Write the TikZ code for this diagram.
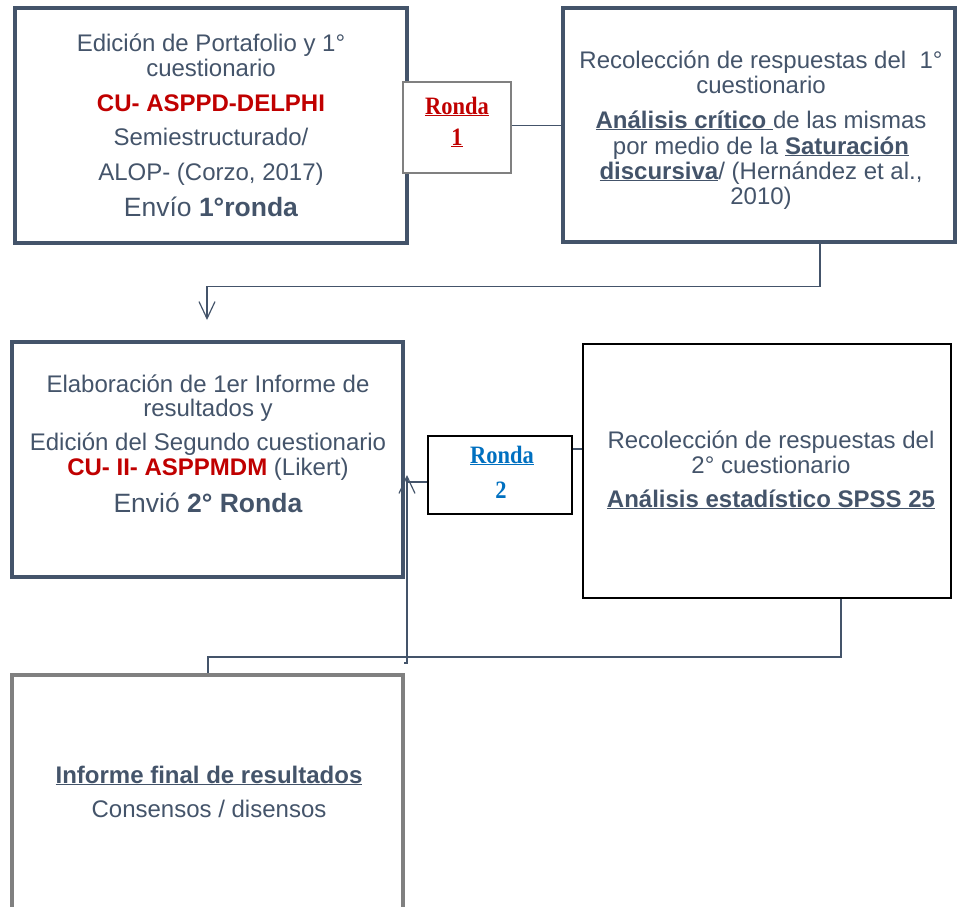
\documentclass[tikz,border=0pt]{standalone}
\usepackage{fontspec}
\setmainfont{Liberation Sans}
\newfontfamily\serfont[FakeStretch=0.9]{Liberation Serif}
\usetikzlibrary{arrows.meta}
\definecolor{slate}{HTML}{44546A}
\definecolor{dred}{HTML}{C00000}
\definecolor{dblue}{HTML}{0070C0}
\definecolor{gbord}{HTML}{808080}
\newcommand\fsz{\fontsize{24}{28}\selectfont}
\newcommand\fbg{\fontsize{26.5}{30}\selectfont}
\newcommand\frs{\fontsize{25}{29}\selectfont}
\begin{document}
\begin{tikzpicture}[x=1pt,y=-1pt,
 box/.style={draw, inner sep=0pt, line width=3.3pt},
 rbox/.style={draw, inner sep=0pt, fill=white},
 txt/.style={anchor=base, inner sep=0pt, font=\fsz, text=slate},
 rtxt/.style={anchor=base, inner sep=0pt, font=\frs\serfont\bfseries},
 conn/.style={draw=slate, line width=1.2pt},
 barb/.style={-{Straight Barb[length=17pt,width=16pt]}}
]
\useasboundingbox (0,0) rectangle (961,907);
% boxes
\node[box, draw=slate, minimum width=392pt, minimum height=235pt] (A) at (211,125.5) {};
\node[box, draw=slate, minimum width=392pt, minimum height=234pt] (B) at (759,125) {};
\node[box, draw=slate, minimum width=391pt, minimum height=235pt] (C) at (207.5,459.5) {};
\node[box, draw=black, line width=2.2pt, minimum width=368pt, minimum height=254pt] (D) at (767,471) {};
\node[box, draw=gbord, line width=4pt, minimum width=391pt, minimum height=244pt] (E) at (207.5,797) {};
\node[rbox, draw=gbord, line width=2.6pt, minimum width=108pt, minimum height=91pt] (R1) at (457,127.5) {};
\node[rbox, draw=black, line width=2.2pt, minimum width=144pt, minimum height=78pt] (R2) at (500,475) {};
% connectors
\coordinate (k1) at (207,320);
\coordinate (k2) at (407,475);
\coordinate (k3) at (407,663);
\coordinate (k4) at (208,657);
\draw[conn] ([yshift=2pt]R1.east) -- ([yshift=2pt]R1.east -| B.west);
\draw[conn, barb] ([xshift=61pt]B.south) -- ++(0,43) -| (k1);
\draw[conn] ([yshift=26pt]R2.east) -- ([yshift=26pt]R2.east -| D.west);
\draw[conn] ([yshift=-7pt]R2.west) -- ([yshift=-7pt]R2.west -| k2);
\draw[conn, barb] ([xshift=-3pt]k3) -- (k3) -- (k2);
\draw[conn] ([xshift=74pt]D.south) |- (k4) -- (k4 |- E.north);
% box A text
\node[txt] (a1) at (211,52) {Edición de Portafolio y 1°};
\node[txt] (a2) at (211,77) {cuestionario};
\node[txt, text=dred] (a3) at (211,111) {\textbf{CU- ASPPD-DELPHI}};
\node[txt] (a4) at (211,145) {Semiestructurado/};
\node[txt] (a5) at (211,180) {ALOP- (Corzo, 2017)};
\node[txt, font=\fbg] (a6) at (211,216) {Envío \textbf{1°ronda}};
% Ronda 1
\node[rtxt, text=dred] (r1a) at (457,114) {\underline{Ronda}};
\node[rtxt, text=dred] (r1b) at (457,145) {\underline{1}};
% box B text
\node[txt] (b1) at (761,68) {Recolección de respuestas del\ \ 1°};
\node[txt] (b2) at (761,93) {cuestionario};
\node[txt] (b3) at (761,128) {\underline{\textbf{Análisis crítico}\ }de las mismas};
\node[txt] (b4) at (761,154) {por medio de la \underline{\textbf{Saturación}}};
\node[txt] (b5) at (761,179) {\underline{\textbf{discursiva}}/ (Hernández et al.,};
\node[txt] (b6) at (761,204) {2010)};
% box C text
\node[txt] (c1) at (208,392) {Elaboración de 1er Informe de};
\node[txt] (c2) at (208,416) {resultados y};
\node[txt] (c3) at (208,450) {Edición del Segundo cuestionario};
\node[txt] (c4) at (208,475) {\textcolor{dred}{\textbf{CU- II- ASPPMDM}} (Likert)};
\node[txt, font=\fbg] (c5) at (208,512) {Envió \textbf{2° Ronda}};
% Ronda 2
\node[rtxt, text=dblue] (r2a) at (502,463) {\underline{Ronda}};
\node[rtxt, text=dblue] (r2b) at (501,498) {2};
% box D text
\node[txt] (d1) at (771,448) {Recolección de respuestas del};
\node[txt] (d2) at (771,473) {2° cuestionario};
\node[txt] (d3) at (771,507) {\underline{\textbf{Análisis estadístico SPSS 25}}};
% box E text
\node[txt] (e1) at (209,783) {\underline{\textbf{Informe final de resultados}}};
\node[txt] (e2) at (209,817) {Consensos / disensos};
\end{tikzpicture}
\end{document}
